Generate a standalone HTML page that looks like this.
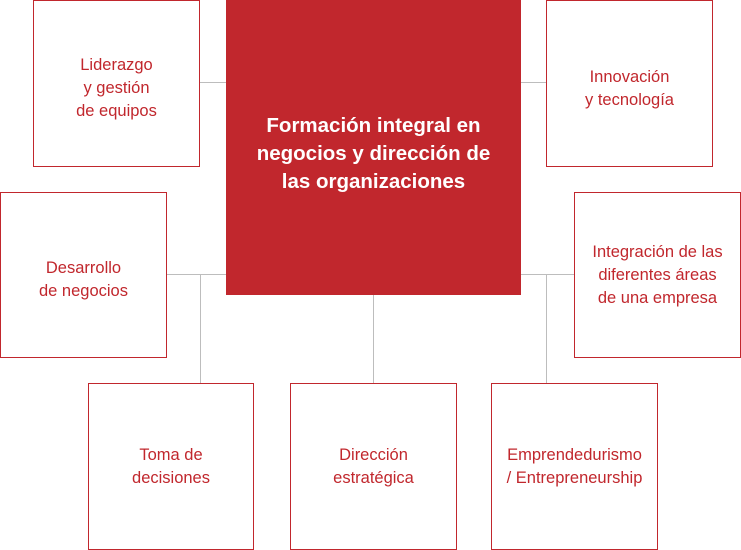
<!DOCTYPE html>
<html><head><meta charset="utf-8"><style>
html,body{margin:0;padding:0;background:#fff;width:741px;height:550px;overflow:hidden;position:relative}
.b{position:absolute;box-sizing:border-box;border:1.5px solid #c1272d;background:#fff;display:flex;align-items:center;justify-content:center;text-align:center;color:#c1272d;font-family:"Liberation Sans",sans-serif;font-size:16.5px;line-height:23px}
.c{position:absolute;left:226px;top:0;width:295px;height:295px;box-sizing:border-box;padding-top:12px;background:#c1272d;display:flex;align-items:center;justify-content:center;text-align:center;color:#fff;font-family:"Liberation Sans",sans-serif;font-weight:bold;font-size:20.5px;line-height:28px}
.l{position:absolute;background:#bdbdbd}
</style></head><body>
<div class="l" style="left:200px;top:82px;width:26px;height:1px"></div>
<div class="l" style="left:521px;top:82px;width:25px;height:1px"></div>
<div class="l" style="left:167px;top:274px;width:59px;height:1px"></div>
<div class="l" style="left:200px;top:274px;width:1px;height:109px"></div>
<div class="l" style="left:521px;top:274px;width:53px;height:1px"></div>
<div class="l" style="left:546px;top:274px;width:1px;height:109px"></div>
<div class="l" style="left:373px;top:295px;width:1px;height:88px"></div>
<div class="c">Formación integral en<br>negocios y dirección de<br>las organizaciones</div>
<div class="b" style="left:33px;top:0;width:167px;height:167px;padding-top:9px">Liderazgo<br>y gestión<br>de equipos</div>
<div class="b" style="left:546px;top:0;width:167px;height:167px;padding-top:10px">Innovación<br>y tecnología</div>
<div class="b" style="left:0;top:192px;width:167px;height:166px;padding-top:10px">Desarrollo<br>de negocios</div>
<div class="b" style="left:574px;top:192px;width:167px;height:166px">Integración de las<br>diferentes áreas<br>de una empresa</div>
<div class="b" style="left:88px;top:383px;width:166px;height:167px">Toma de<br>decisiones</div>
<div class="b" style="left:290px;top:383px;width:167px;height:167px">Dirección<br>estratégica</div>
<div class="b" style="left:491px;top:383px;width:167px;height:167px">Emprendedurismo<br>/ Entrepreneurship</div>
</body></html>
